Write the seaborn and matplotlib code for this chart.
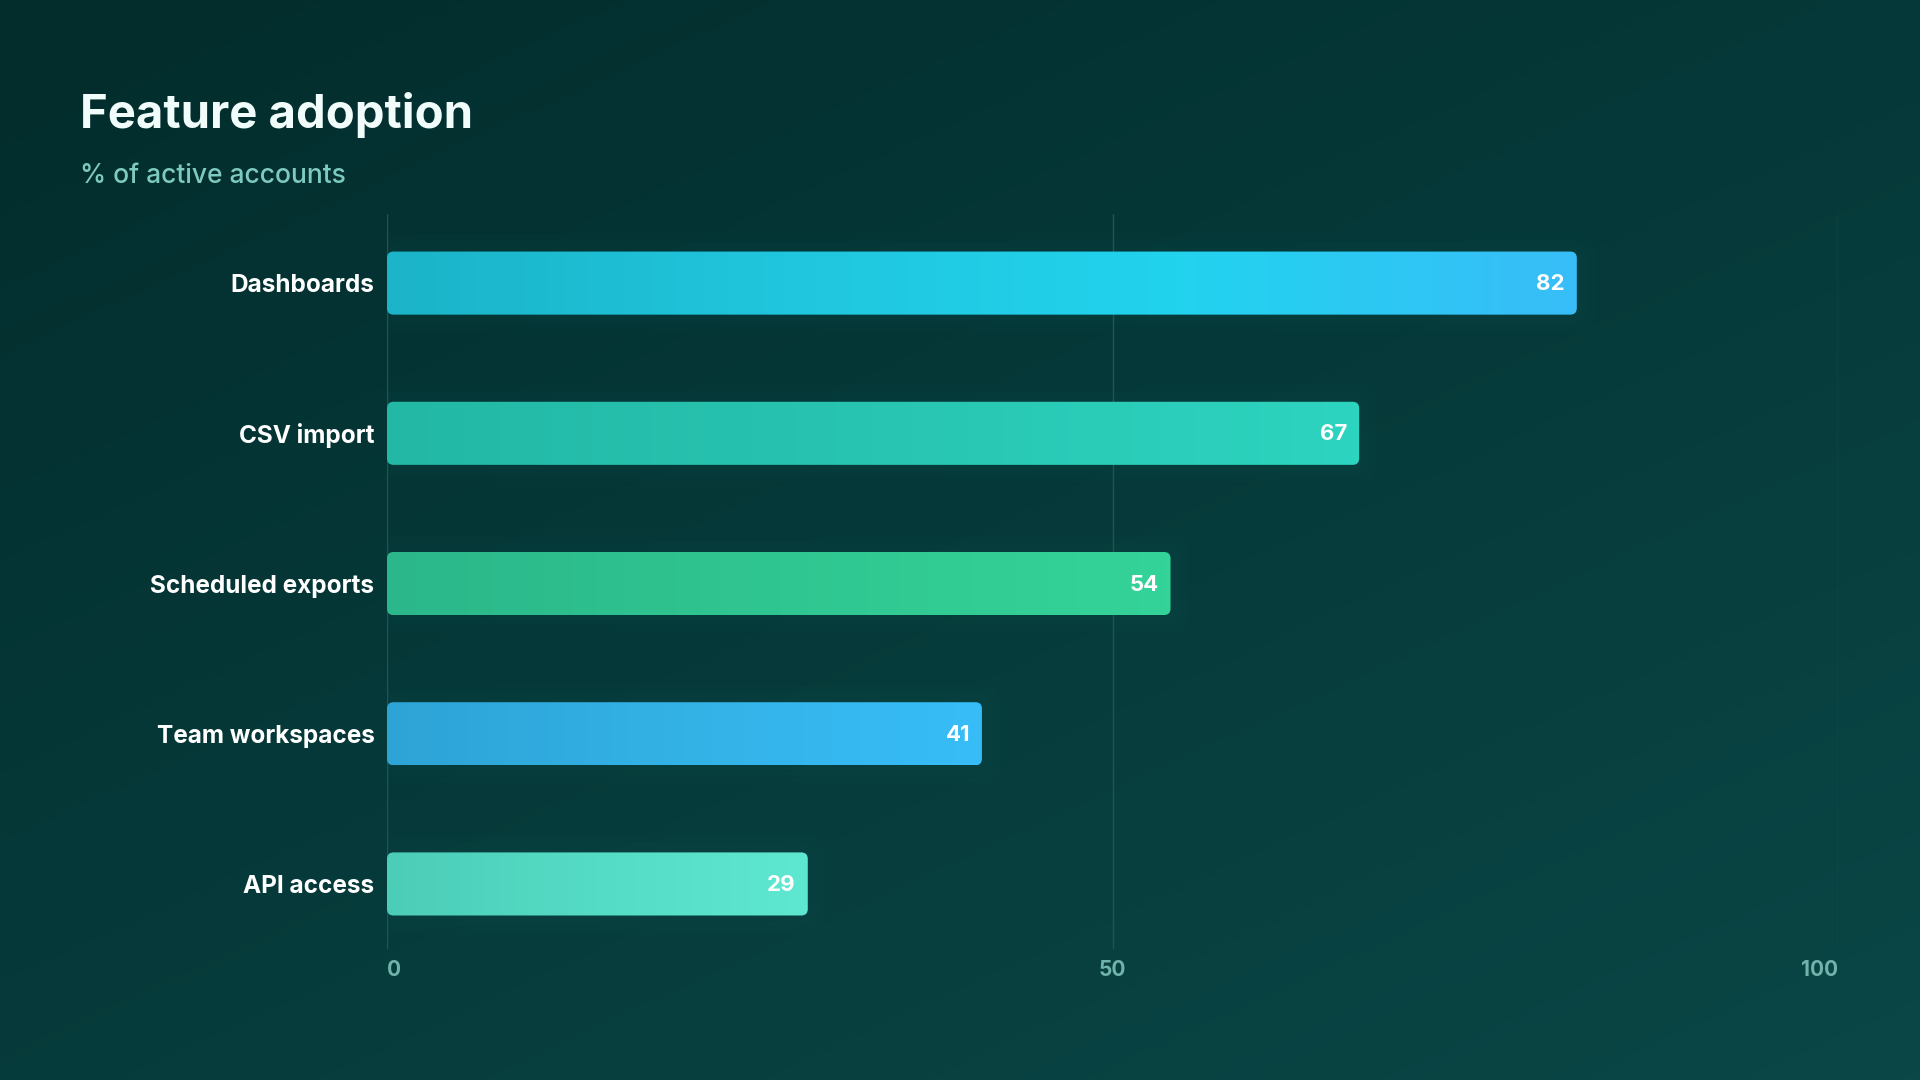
import numpy as np
import matplotlib.pyplot as plt
import seaborn as sns
from matplotlib.patches import FancyBboxPatch
from matplotlib.colors import LinearSegmentedColormap

features = ["Dashboards", "CSV import", "Scheduled exports", "Team workspaces", "API access"]
adoption = [82, 67, 54, 41, 29]
ticks = [0, 50, 100]
tick_labels = ["0", "50", "100"]

# left -> right gradient stops per bar
bar_colors = [
    ["#1bb4c8", "#20c6dd", "#22d3ee", "#38bdf8"],
    ["#23b8a6", "#28c5b2", "#2dd4bf"],
    ["#2bb78a", "#30c691", "#34d399"],
    ["#2ea3d6", "#33b2e6", "#38bdf8"],
    ["#4ccdb8", "#55dcc6", "#5ee7d1"],
]

sns.set_theme(style="white")
plt.rcParams["font.family"] = ["Inter", "DejaVu Sans"]

fig = plt.figure(figsize=(19.2, 10.8), dpi=100)

# background gradient
bg = fig.add_axes([0, 0, 1, 1], zorder=-10)
yy, xx = np.mgrid[0:1:200j, 0:1:300j]
t = 0.55 * yy + 0.45 * xx
bg_cmap = LinearSegmentedColormap.from_list("bg", ["#032c2c", "#063a3a", "#0a4746"])
bg.imshow(t, cmap=bg_cmap, aspect="auto", extent=[0, 1, 0, 1], origin="upper")
bg.set_axis_off()

W, H = 1920, 1080
left, right, top, bottom = 387, 1838, 214, 949
ax = fig.add_axes([left / W, 1 - bottom / H, (right - left) / W, (bottom - top) / H])
ax.set_facecolor("none")

sns.barplot(x=adoption, y=features, orient="h", width=0.42, ax=ax, color="#22d3ee")

px_per_x = (right - left) / 100.0
px_per_y = 150.0
aspect = px_per_x / px_per_y

for i, p in enumerate(list(ax.patches)):
    x0, y0 = p.get_x(), p.get_y()
    w, h = p.get_width(), p.get_height()
    p.set_visible(False)
    # soft glow
    for k, a in [(1.2, 0.05), (0.7, 0.07)]:
        glow = FancyBboxPatch((x0 - k, y0 - k * aspect), w + 2 * k, h + 2 * k * aspect,
                              boxstyle="round,pad=0,rounding_size=1.2",
                              mutation_aspect=aspect, facecolor="#0f5a55",
                              edgecolor="none", alpha=a, zorder=1)
        ax.add_patch(glow)
    box = FancyBboxPatch((x0, y0), w, h, boxstyle="round,pad=0,rounding_size=0.45",
                         mutation_aspect=aspect, facecolor="none", edgecolor="none", zorder=2)
    ax.add_patch(box)
    cmap = LinearSegmentedColormap.from_list(f"b{i}", bar_colors[i])
    grad = np.linspace(0, 1, 256).reshape(1, -1)
    im = ax.imshow(grad, cmap=cmap, aspect="auto", extent=[x0, x0 + w, y0 + h, y0],
                   zorder=2, interpolation="bicubic")
    im.set_clip_path(box)
    ax.annotate(str(adoption[i]), xy=(x0 + w, y0 + h / 2), xytext=(-12, -1),
                textcoords="offset pixels", ha="right", va="center",
                fontsize=16, fontweight="bold", color="white", zorder=3)

ax.set_xlim(0, 100)
ax.set_ylim(4.433, -0.46)
ax.set_aspect("auto")

for tx in ticks:
    ax.axvline(tx, color="#1c5853", lw=1.0, zorder=0)

ax.set_xticks(ticks)
ax.set_xticklabels(tick_labels)
for lab, ha in zip(ax.get_xticklabels(), ["left", "center", "right"]):
    lab.set_ha(ha)
    lab.set_color("#6fb3aa")
    lab.set_fontsize(15)
    lab.set_fontweight("bold")
ax.tick_params(axis="x", length=0, pad=8)
ax.tick_params(axis="y", length=0, pad=9)
for lab in ax.get_yticklabels():
    lab.set_color("white")
    lab.set_fontsize(17.5)
    lab.set_fontweight("bold")
ax.set_xlabel("")
ax.set_ylabel("")
for s in ax.spines.values():
    s.set_visible(False)
ax.grid(False)

fig.text(80 / W, 1 - 128 / H, "Feature adoption", fontsize=34, fontweight="bold",
         color="#f0fdfa", va="baseline", ha="left")
fig.text(80 / W, 1 - 183 / H, "% of active accounts", fontsize=19,
         color="#7ecac0", va="baseline", ha="left", fontweight="medium")

fig.savefig("out.png", dpi=100)
